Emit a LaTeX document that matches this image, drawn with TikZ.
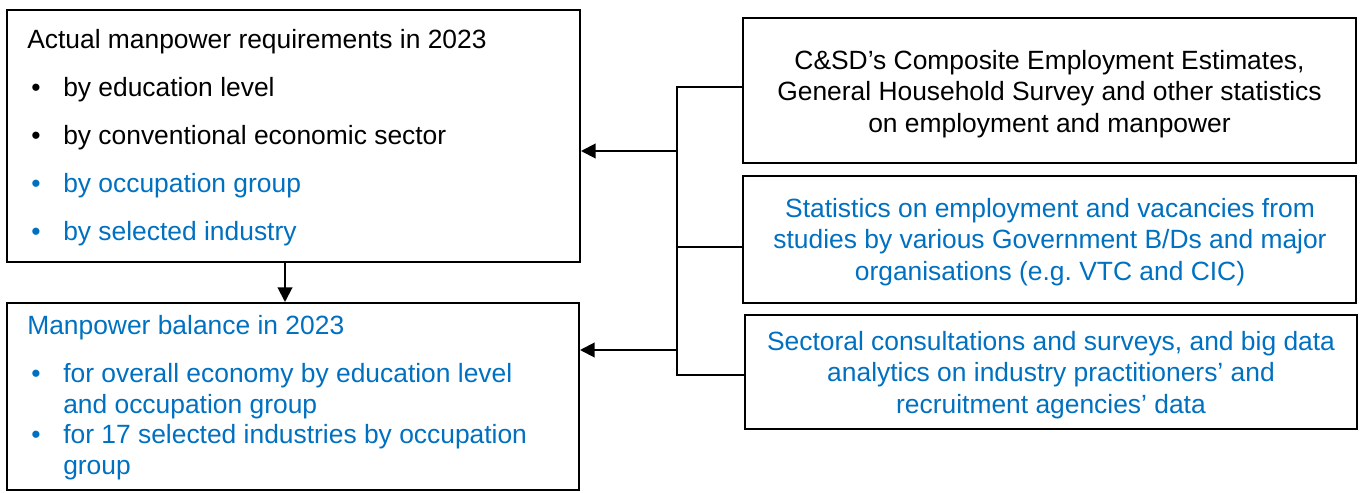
\documentclass[tikz,border=0pt]{standalone}
\usepackage{fontspec}
\setmainfont{Liberation Sans}
\usetikzlibrary{arrows.meta,fit}
\definecolor{ofblue}{HTML}{0070C0}

\begin{document}
\begin{tikzpicture}[x=0.75pt,y=-0.75pt,
    box/.style={draw, line width=1.5pt, inner sep=0pt, fit={#1}},
    bus/.style={line width=2pt},
    arr/.style={line width=1.5pt, -{Triangle[length=11pt,width=11pt]}},
    txt/.style={inner sep=0pt, font=\fontsize{19.8}{24}\selectfont}]
    \useasboundingbox (0,0) rectangle (1365,493);
    % Draw the boxes
    \node[box={(7,10) (580,262)}] (req) {};
    \node[box={(7,303) (579,490)}] (bal) {};
    \node[box={(743,18) (1356,163)}] (srcA) {};
    \node[box={(743,176) (1356,303)}] (srcB) {};
    \node[box={(745,315) (1357,429)}] (srcC) {};
    % Left boxes: heading and bullet lines
    \node[txt, anchor=base west] (reqhead) at (27,48) {Actual manpower requirements in 2023};
    \foreach \txt/\col [count=\i] in {by education level/black, by conventional economic sector/black,
        by occupation group/ofblue, by selected industry/ofblue} {
        \node[txt, text=\col, anchor=base west] (reqdot\i) at (31,{48+48*\i}) {\textbullet};
        \node[txt, text=\col, anchor=base west] (reqitem\i) at (63,{48+48*\i}) {\txt};
    }
    \node[txt, text=ofblue, anchor=base west] (balhead) at (27,334) {Manpower balance in 2023};
    \node[txt, text=ofblue, anchor=base west] (baldotA) at (31,382) {\textbullet};
    \node[txt, text=ofblue, anchor=base west] (baldotB) at (31,443) {\textbullet};
    \foreach \txt/\y [count=\i] in {for overall economy by education level/382, and occupation group/413,
        for 17 selected industries by occupation/443, group/474}
        \node[txt, text=ofblue, anchor=base west] (balline\i) at (63,\y) {\txt};
    % Right boxes: centred lines
    \foreach \txt [count=\i] in {{C\&SD’s Composite Employment Estimates,},
        {General Household Survey and other statistics}, {on employment and manpower}}
        \node[txt, anchor=base] (srcAline\i) at (1049.5,{37.5+31.5*\i}) {\txt};
    \foreach \txt [count=\i] in {{Statistics on employment and vacancies from},
        {studies by various Government B/Ds and major}, {organisations (e.g.\ VTC and CIC)}}
        \node[txt, text=ofblue, anchor=base] (srcBline\i) at (1050,{185.5+31.5*\i}) {\txt};
    \foreach \txt [count=\i] in {{Sectoral consultations and surveys, and big data},
        {analytics on industry practitioners’ and}, {recruitment agencies’ data}}
        \node[txt, text=ofblue, anchor=base] (srcCline\i) at (1051,{318.5+31.5*\i}) {\txt};
    % Bus joining the sources
    \coordinate (tieA) at (677,87);
    \coordinate (tieB) at (677,247);
    \coordinate (tieC) at (677,375);
    \draw[bus] (tieA -| srcA.west) -| (tieC) -- (tieC -| srcC.west);
    \draw[bus] (tieB) -- (tieB -| srcB.west);
    % Arrows into the left boxes
    \coordinate (inA) at (677,151);
    \coordinate (inB) at (677,350);
    \draw[arr] (inA) -- (inA -| req.east);
    \draw[arr] (inB) -- (inB -| bal.east);
    \coordinate (down) at (285,0);
    \draw[arr] (req.south -| down) -- (bal.north -| down);
\end{tikzpicture}
\end{document}
